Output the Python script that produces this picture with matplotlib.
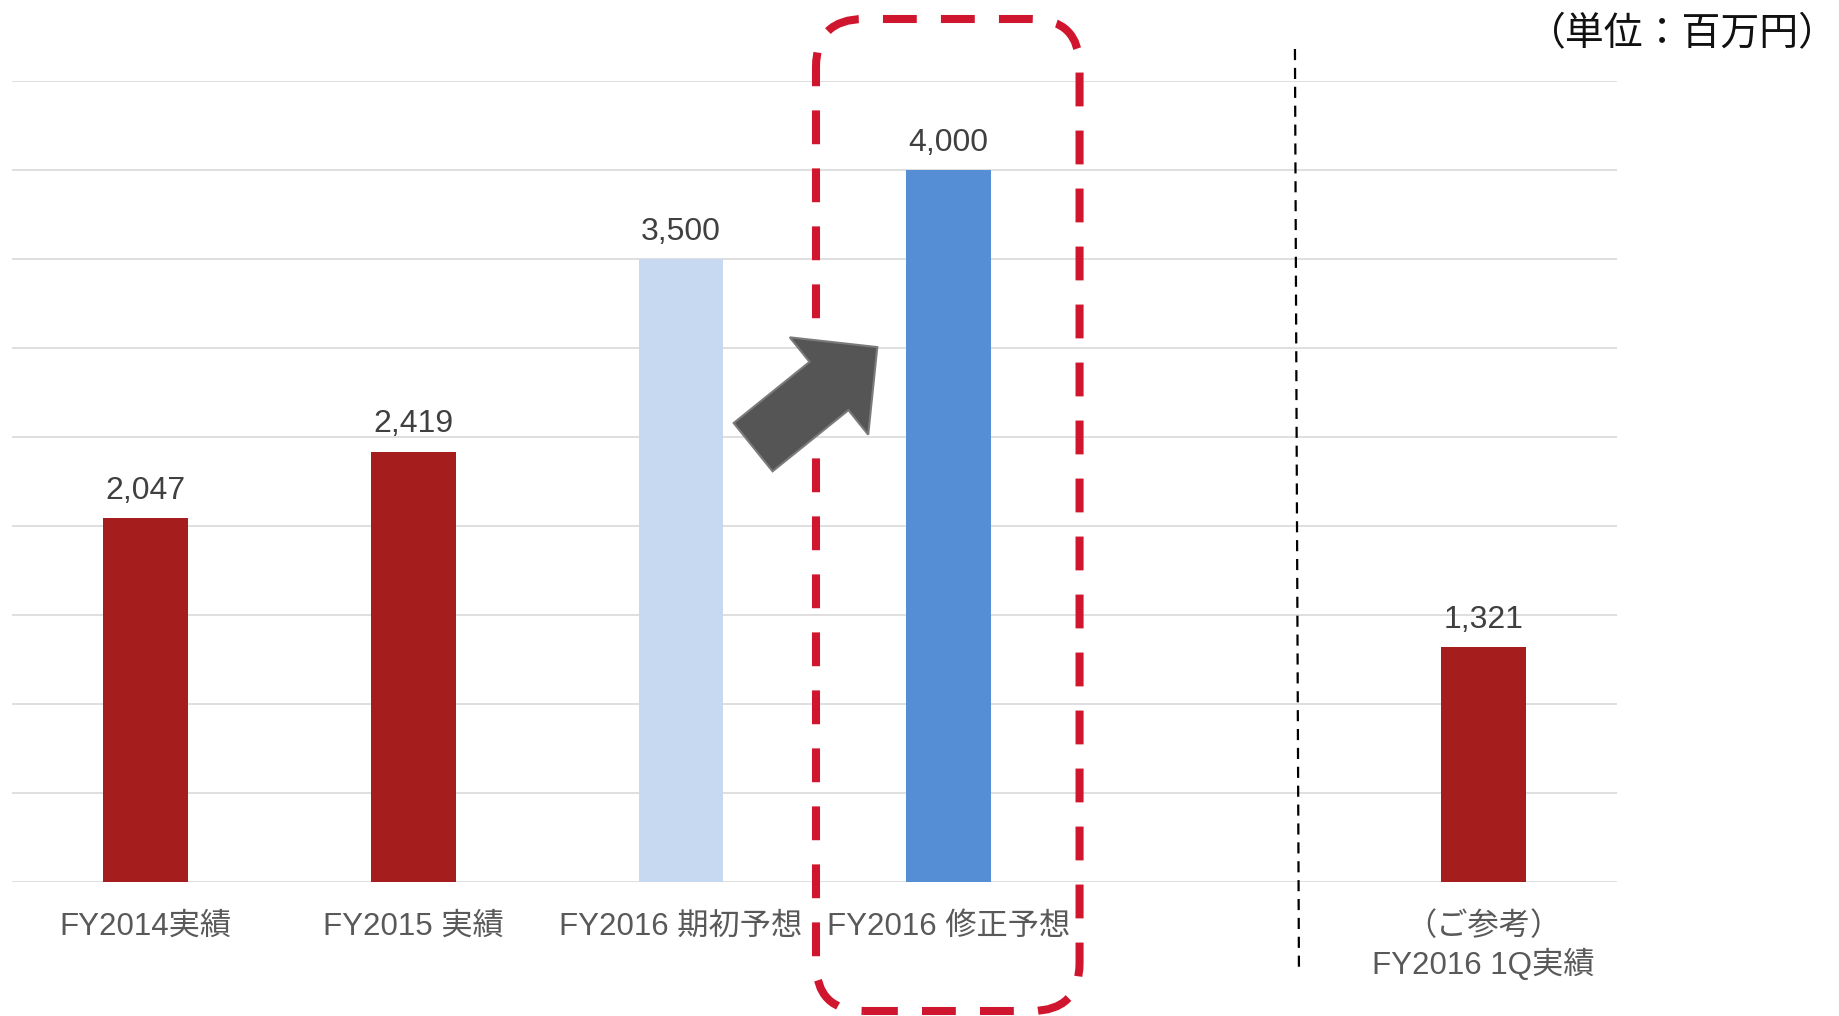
import numpy as np
import matplotlib.pyplot as plt
from matplotlib.patches import FancyBboxPatch, FancyArrow
from matplotlib.transforms import blended_transform_factory, IdentityTransform
from matplotlib.lines import Line2D

# data
categories = ['FY2014実績', 'FY2015 実績', 'FY2016 期初予想', 'FY2016 修正予想', '',
              '（ご参考）\nFY2016 1Q実績']
values = [2047, 2419, 3500, 4000, np.nan, 1321]
bar_colors = ['#A51D1D', '#A51D1D', '#C6D9F0', '#558ED5', '#FFFFFF', '#A51D1D']
unit_text = '（単位：百万円）'

fonts = ['Liberation Sans', 'Noto Sans CJK JP', 'DejaVu Sans']
plt.rcParams['font.family'] = fonts

fig = plt.figure(figsize=(18.4, 10.16), dpi=100)
ax = fig.add_axes([0.0065, 0.1314, 0.8725, 0.7886])

x = np.arange(len(categories))
ax.bar(x, values, width=0.316, color=bar_colors, zorder=3)

for xi, v in zip(x, values):
    if np.isnan(v):
        continue
    ax.annotate(f'{v:,.0f}', (xi, v), xytext=(0, 9), textcoords='offset points',
                ha='center', va='bottom', fontsize=23, color='#404040')

ax.set_xlim(-0.5, 5.5)
ax.set_ylim(0, 4500)
ax.set_yticks(np.arange(0, 4501, 500))
ax.yaxis.grid(True, color='#D9D9D9', linewidth=1.2, zorder=0)
ax.set_axisbelow(True)
ax.set_yticklabels([])
ax.set_xticks(x)
ax.set_xticklabels(categories, fontsize=22.5, color='#595959', linespacing=1.3)
ax.tick_params(axis='both', length=0)
ax.tick_params(axis='x', pad=21)
for s in ax.spines.values():
    s.set_visible(False)

# separator line before reference bar
trans = blended_transform_factory(ax.transData, fig.transFigure)
sep = Line2D([4.295, 4.31], [1 - 49 / 1016, 1 - 972 / 1016], transform=trans,
             color='black', linewidth=1.6, linestyle=(0, (5, 3.5)), clip_on=False)
fig.add_artist(sep)

# red dashed rounded box around revised forecast
fig.canvas.draw()
H = fig.bbox.height
x0 = ax.transData.transform((2.505, 0))[0]
x1 = ax.transData.transform((3.49, 0))[0]
y0 = H - 1011
y1 = H - 19
box = FancyBboxPatch((x0, y0), x1 - x0, y1 - y0,
                     boxstyle='round,pad=0,rounding_size=48',
                     transform=IdentityTransform(), fill=False,
                     edgecolor='#D0162E', linewidth=5.8,
                     linestyle=(0, (4.2, 3.0)), clip_on=False)
fig.add_artist(box)

# arrow from initial to revised forecast
p0 = ax.transData.transform((2.27, 2445))
p1 = ax.transData.transform((2.734, 3007))
arrow = FancyArrow(p0[0], p0[1], p1[0] - p0[0], p1[1] - p0[1], width=62,
                   head_width=125, head_length=62, length_includes_head=True,
                   transform=IdentityTransform(), facecolor='#555555',
                   edgecolor='#7A7A7A', linewidth=1.5, zorder=5)
fig.add_artist(arrow)

fig.text(0.999, 1 - 34 / 1016, unit_text, ha='right', va='center',
         fontsize=28, color='#111111', family=['Noto Sans CJK JP', 'DejaVu Sans'])

fig.savefig('out.png', dpi=100, facecolor='white')
